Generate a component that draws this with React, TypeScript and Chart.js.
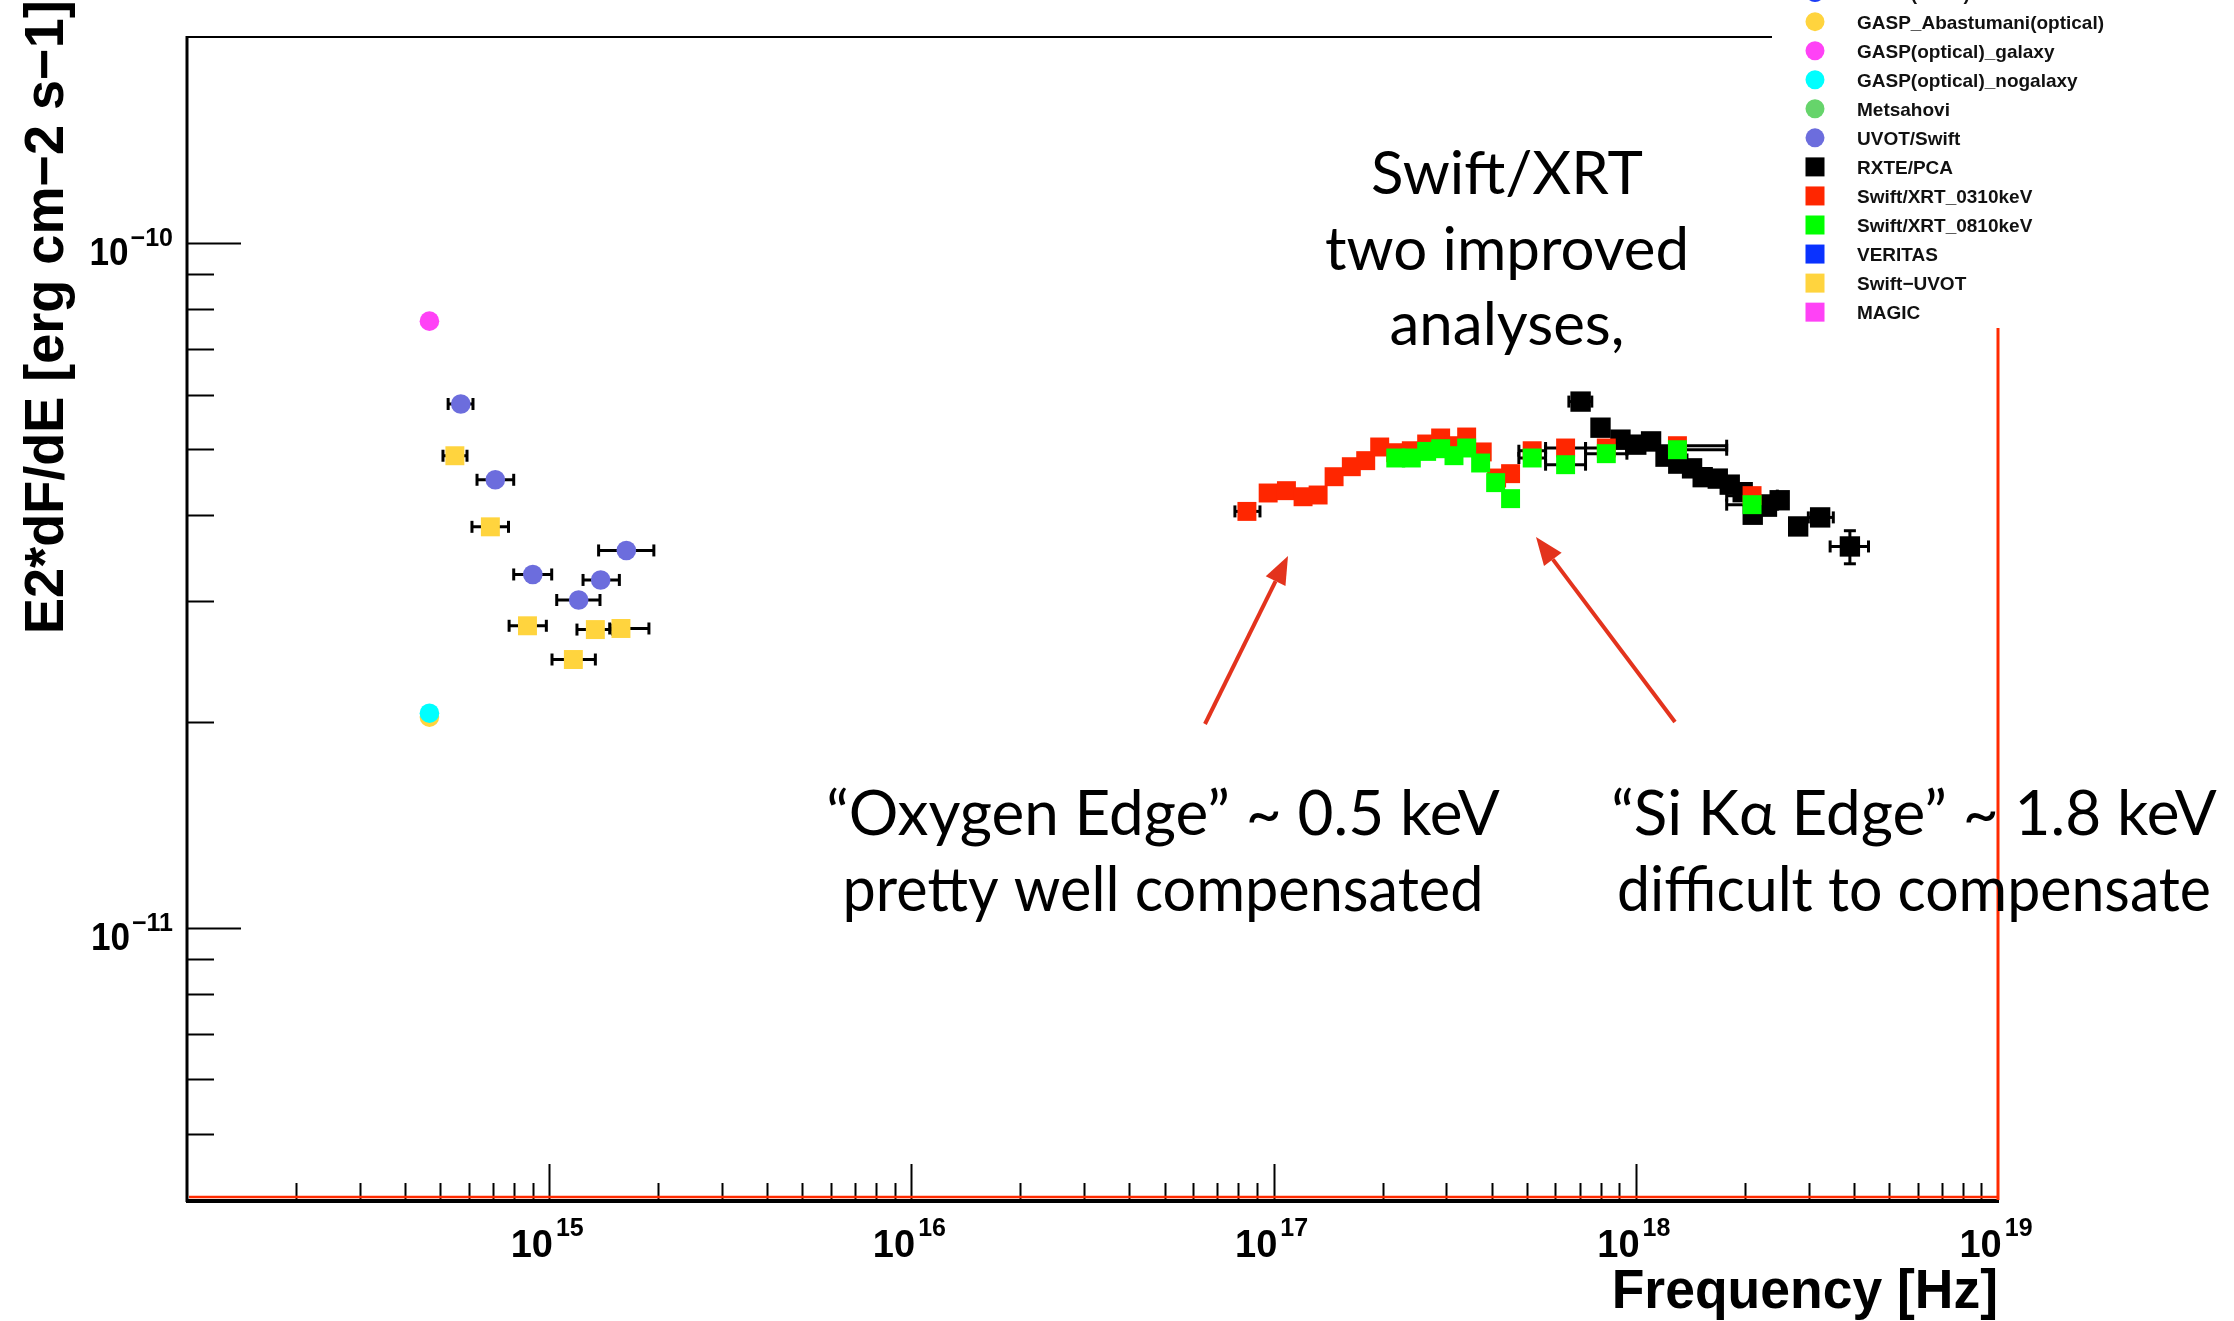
import React, { useEffect, useRef } from 'react';
import { Chart, registerables } from 'chart.js';

Chart.register(...registerables);

const W = 2234;
const H = 1321;

// ---------- data (frequency [Hz], E2 dF/dE [erg cm^-2 s^-1]) ----------
const gaspGalaxyX = [4.67e14];
const gaspGalaxyY = [7.69e-11];
const gaspNogalaxyX = [4.67e14];
const gaspNogalaxyY = [2.057e-11];
const gaspAbastumaniX = [4.67e14];
const gaspAbastumaniY = [2.03e-11];

const uvotSwiftX = [5.7e14, 7.1e14, 9.01e14, 1.206e15, 1.387e15, 1.633e15];
const uvotSwiftY = [5.82e-11, 4.51e-11, 3.28e-11, 3.01e-11, 3.22e-11, 3.556e-11];
const uvotSwiftXLo = [5.26e14, 6.32e14, 7.98e14, 1.049e15, 1.24e15, 1.369e15];
const uvotSwiftXHi = [6.16e14, 7.98e14, 1.016e15, 1.381e15, 1.562e15, 1.945e15];

const swiftUvotX = [5.49e14, 6.88e14, 8.71e14, 1.166e15, 1.341e15, 1.578e15];
const swiftUvotY = [4.89e-11, 3.85e-11, 2.76e-11, 2.464e-11, 2.725e-11, 2.735e-11];
const swiftUvotXLo = [5.09e14, 6.12e14, 7.75e14, 1.018e15, 1.193e15, 1.469e15];
const swiftUvotXHi = [5.93e14, 7.72e14, 9.82e14, 1.341e15, 1.497e15, 1.885e15];

const xrt0310X = [8.44e16, 9.66e16, 1.085e17, 1.206e17, 1.327e17, 1.469e17, 1.639e17, 1.796e17, 1.963e17, 2.174e17, 2.4e17, 2.646e17, 2.892e17, 3.148e17, 3.412e17, 3.767e17, 4.128e17, 4.511e17, 5.175e17, 6.4e17, 8.29e17, 1.303e18, 2.094e18];
const xrt0310Y = [4.055e-11, 4.314e-11, 4.348e-11, 4.26e-11, 4.285e-11, 4.557e-11, 4.713e-11, 4.81e-11, 5.036e-11, 4.94e-11, 4.973e-11, 5.087e-11, 5.191e-11, 5.058e-11, 5.208e-11, 4.953e-11, 4.537e-11, 4.604e-11, 4.973e-11, 5.019e-11, 5.019e-11, 5.058e-11, 4.276e-11];
const xrt0310XLo = [7.82e16, null, null, null, null, null, null, null, null, null, null, null, null, null, null, null, null, null, 4.755e17, 5.635e17, 7.265e17, 9.45e17, 1.782e18];
const xrt0310XHi = [9.17e16, null, null, null, null, null, null, null, null, null, null, null, null, null, null, null, null, null, 5.635e17, 7.265e17, 9.45e17, 1.782e18, 2.459e18];

const xrt0810X = [2.174e17, 2.4e17, 2.646e17, 2.892e17, 3.148e17, 3.412e17, 3.729e17, 4.102e17, 4.511e17, 5.175e17, 6.4e17, 8.29e17, 1.303e18, 2.094e18];
const xrt0810Y = [4.853e-11, 4.853e-11, 4.962e-11, 5.007e-11, 4.891e-11, 5.019e-11, 4.772e-11, 4.467e-11, 4.233e-11, 4.853e-11, 4.745e-11, 4.924e-11, 4.99e-11, 4.148e-11];
const xrt0810XLo = [null, null, null, null, null, null, null, null, null, 4.755e17, 5.635e17, 7.265e17, 9.45e17, 1.782e18];
const xrt0810XHi = [null, null, null, null, null, null, null, null, null, 5.635e17, 7.265e17, 9.45e17, 1.782e18, 2.459e18];

const rxteX = [7.04e17, 7.99e17, 9.07e17, 1.003e18, 1.102e18, 1.208e18, 1.31e18, 1.43e18, 1.53e18, 1.684e18, 1.817e18, 1.973e18, 2.103e18, 2.302e18, 2.496e18, 2.807e18, 3.228e18, 3.9e18];
const rxteY = [5.867e-11, 5.374e-11, 5.162e-11, 5.076e-11, 5.132e-11, 4.875e-11, 4.762e-11, 4.687e-11, 4.55e-11, 4.528e-11, 4.437e-11, 4.326e-11, 4.01e-11, 4.12e-11, 4.21e-11, 3.855e-11, 3.974e-11, 3.604e-11];
const rxteXLo = [6.535e17, null, null, null, null, null, null, null, null, null, null, null, null, null, null, null, 2.995e18, 3.44e18];
const rxteXHi = [7.56e17, null, null, null, null, null, null, null, null, null, null, null, null, null, null, null, 3.51e18, 4.39e18];
const rxteYLo = [null, null, null, null, null, null, null, null, null, null, null, null, null, null, null, null, null, 3.4e-11];
const rxteYHi = [null, null, null, null, null, null, null, null, null, null, null, null, null, null, null, null, null, 3.8e-11];

// ---------- axes ----------
const xMin = 1e14;
const xMax = 1e19;
const yMin = 4e-12;
const yMax = 2e-10;
const xMajorTicks = [1e15, 1e16, 1e17, 1e18, 1e19];
const xTickExponents = ['15', '16', '17', '18', '19'];
const xDecades = [1e14, 1e15, 1e16, 1e17, 1e18];
const yMajorTicks = [1e-11, 1e-10];
const yTickExponents = ['\u221211', '\u221210'];
const yMinorTicks = [5e-12, 6e-12, 7e-12, 8e-12, 9e-12, 2e-11, 3e-11, 4e-11, 5e-11, 6e-11, 7e-11, 8e-11, 9e-11];
const xTitle = 'Frequency [Hz]';
const yTitle = 'E2*dF/dE [erg cm\u22122 s\u22121]';

// ---------- legend ----------
const legendLabels = ['GASP(radio)', 'GASP_Abastumani(optical)', 'GASP(optical)_galaxy', 'GASP(optical)_nogalaxy', 'Metsahovi', 'UVOT/Swift', 'RXTE/PCA', 'Swift/XRT_0310keV', 'Swift/XRT_0810keV', 'VERITAS', 'Swift\u2212UVOT', 'MAGIC'];
const legendColors = ['#1c3cf5', '#ffd43e', '#ff42f6', '#00ffff', '#66d46b', '#6c6ddd', '#000000', '#ff2600', '#00ff00', '#0a32ff', '#ffd43e', '#ff42f6'];
const legendShapes = ['circle', 'circle', 'circle', 'circle', 'circle', 'circle', 'rect', 'rect', 'rect', 'rect', 'rect', 'rect'];

// ---------- annotations ----------
const noteTop = ['Swift/XRT', 'two improved', 'analyses,'];
const noteOxygen = ['\u201cOxygen Edge\u201d ~ 0.5 keV', 'pretty well compensated'];
const noteSi = ['\u201cSi K\u03b1 Edge\u201d ~ 1.8 keV', 'difficult to compensate'];

const pts = (xs: number[], ys: number[]) => xs.map((x, i) => ({ x, y: ys[i] }));

const SANS = '"Liberation Sans", Arial, Helvetica, sans-serif';
const HUMAN = 'Lato, "Open Sans", sans-serif';

function drawText(ctx: CanvasRenderingContext2D, text: string, x: number, y: number, font: string, align: string, hscale = 1, color = '#000') {
  ctx.save();
  ctx.font = font;
  ctx.fillStyle = color;
  ctx.textBaseline = 'alphabetic';
  ctx.textAlign = 'left';
  const w = ctx.measureText(text).width * hscale;
  const x0 = align === 'center' ? x - w / 2 : align === 'right' ? x - w : x;
  ctx.translate(x0, y);
  ctx.scale(hscale, 1);
  ctx.fillText(text, 0, 0);
  ctx.restore();
  return w;
}

function textWidth(ctx: CanvasRenderingContext2D, text: string, font: string) {
  ctx.save();
  ctx.font = font;
  const w = ctx.measureText(text).width;
  ctx.restore();
  return w;
}

function line(ctx: CanvasRenderingContext2D, x1: number, y1: number, x2: number, y2: number, color: string, width: number) {
  ctx.save();
  ctx.strokeStyle = color;
  ctx.lineWidth = width;
  ctx.beginPath();
  ctx.moveTo(x1, y1);
  ctx.lineTo(x2, y2);
  ctx.stroke();
  ctx.restore();
}

function arrow(ctx: CanvasRenderingContext2D, x1: number, y1: number, x2: number, y2: number, color: string) {
  const ang = Math.atan2(y2 - y1, x2 - x1);
  const headLen = 28;
  const headHalf = 11;
  const bx = x2 - headLen * Math.cos(ang);
  const by = y2 - headLen * Math.sin(ang);
  line(ctx, x1, y1, bx, by, color, 4);
  ctx.save();
  ctx.fillStyle = color;
  ctx.beginPath();
  ctx.moveTo(x2, y2);
  ctx.lineTo(bx + headHalf * Math.sin(ang), by - headHalf * Math.cos(ang));
  ctx.lineTo(bx - headHalf * Math.sin(ang), by + headHalf * Math.cos(ang));
  ctx.closePath();
  ctx.fill();
  ctx.restore();
}

const overlayPlugin = {
  id: 'rootOverlay',
  beforeDatasetsDraw(chart: any) {
    const ctx: CanvasRenderingContext2D = chart.ctx;
    const xs = chart.scales.x;
    const ys = chart.scales.y;
    chart.data.datasets.forEach((ds: any) => {
      const e = ds.errors;
      if (!e) return;
      ds.data.forEach((p: any, i: number) => {
        const px = xs.getPixelForValue(p.x);
        const py = ys.getPixelForValue(p.y);
        if (e.xLo && e.xLo[i] != null) {
          const a = xs.getPixelForValue(e.xLo[i]);
          const b = xs.getPixelForValue(e.xHi[i]);
          line(ctx, a, py, b, py, '#000', 3);
          line(ctx, a, py - 6, a, py + 6, '#000', 3);
          line(ctx, b, py - 6, b, py + 6, '#000', 3);
        }
        if (e.yLo && e.yLo[i] != null) {
          const a = ys.getPixelForValue(e.yLo[i]);
          const b = ys.getPixelForValue(e.yHi[i]);
          line(ctx, px, a, px, b, '#000', 3);
          line(ctx, px - 6, a, px + 6, a, '#000', 3);
          line(ctx, px - 6, b, px + 6, b, '#000', 3);
        }
      });
    });
  },
  afterDraw(chart: any) {
    const ctx: CanvasRenderingContext2D = chart.ctx;
    const xs = chart.scales.x;
    const ys = chart.scales.y;
    const { left, right, top, bottom } = chart.chartArea;

    // x ticks (inside, from bottom axis)
    xDecades.forEach((d) => {
      for (let m = 2; m <= 9; m++) {
        const px = Math.round(xs.getPixelForValue(d * m)) + 0.5;
        line(ctx, px, bottom, px, bottom - 17, '#000', 2);
      }
    });
    xMajorTicks.forEach((v) => {
      const px = Math.round(xs.getPixelForValue(v)) + 0.5;
      if (v < xMax) line(ctx, px, bottom, px, bottom - 36, '#000', 2);
    });
    // y ticks
    yMinorTicks.forEach((v) => {
      const py = Math.round(ys.getPixelForValue(v)) + 0.5;
      line(ctx, left, py, left + 27, py, '#000', 2);
    });
    yMajorTicks.forEach((v) => {
      const py = Math.round(ys.getPixelForValue(v)) + 0.5;
      line(ctx, left, py, left + 54, py, '#000', 2);
    });

    // frame
    line(ctx, left, top, 1772, top, '#000', 2);
    line(ctx, left, top - 1, left, bottom + 2, '#000', 3);
    line(ctx, left - 1, bottom + 1, right + 1, bottom + 1, '#000', 4);
    line(ctx, left + 2, bottom - 3, right, bottom - 3, '#ff2a00', 2.5);
    line(ctx, right, 328, right, bottom, '#ff2a00', 3);

    // x tick labels
    const mainFontX = `bold 38px ${SANS}`;
    const supFontX = `bold 25px ${SANS}`;
    xMajorTicks.forEach((v, i) => {
      const px = xs.getPixelForValue(v);
      const w1 = textWidth(ctx, '10', mainFontX);
      const w2 = textWidth(ctx, xTickExponents[i], supFontX);
      const total = w1 + 3 + w2;
      const x0 = px - total / 2 - 2;
      drawText(ctx, '10', x0, bottom + 57, mainFontX, 'left');
      drawText(ctx, xTickExponents[i], x0 + w1 + 3, bottom + 36, supFontX, 'left');
    });
    // y tick labels
    const mainFontY = `bold 39px ${SANS}`;
    const supFontY = `bold 25px ${SANS}`;
    yMajorTicks.forEach((v, i) => {
      const py = ys.getPixelForValue(v);
      const w2 = drawText(ctx, yTickExponents[i], left - 14, py + 3, supFontY, 'right', 1.0);
      drawText(ctx, '10', left - 14 - w2 - 2, py + 22, mainFontY, 'right', 0.9);
    });

    // axis titles
    drawText(ctx, xTitle, right, 1308, `bold 56px ${SANS}`, 'right', 0.955);
    ctx.save();
    ctx.translate(63, 634);
    ctx.rotate(-Math.PI / 2);
    drawText(ctx, yTitle, 0, 0, `bold 56px ${SANS}`, 'left', 0.965);
    ctx.restore();

    // legend (ROOT TLegend style, no border)
    const legTop = -7.4;
    const legStep = 29.05;
    legendLabels.forEach((lab, i) => {
      const cy = legTop + i * legStep;
      ctx.save();
      ctx.fillStyle = legendColors[i];
      if (legendShapes[i] === 'circle') {
        ctx.beginPath();
        ctx.arc(1815, cy, 9.5, 0, Math.PI * 2);
        ctx.fill();
      } else {
        ctx.fillRect(1815 - 9.5, cy - 9.5, 19, 19);
      }
      ctx.restore();
      drawText(ctx, lab, 1857, cy + 7, `bold 19px ${SANS}`, 'left', 1.0, '#111');
    });

    // annotations
    const noteFont = `60px ${HUMAN}`;
    const edgeFont = `62px ${HUMAN}`;
    noteTop.forEach((t, i) => drawText(ctx, t, 1507, 194 + i * 75.5, noteFont, 'center'));
    noteOxygen.forEach((t, i) => drawText(ctx, t, 1163, 835 + i * 76, edgeFont, 'center', i === 0 ? 1 : 0.958));
    noteSi.forEach((t, i) => drawText(ctx, t, 1914, 835 + i * 76, edgeFont, 'center', i === 0 ? 1 : 0.952));

    arrow(ctx, 1205, 724, 1288, 556, '#e3331d');
    arrow(ctx, 1675, 722, 1536, 537, '#e3331d');
  },
};

export default function App() {
  const ref = useRef<HTMLCanvasElement | null>(null);
  useEffect(() => {
    document.body.style.margin = '0';
    document.body.style.background = '#ffffff';
    const canvas = ref.current;
    if (!canvas) return;
    const circle = (label: string, xs: number[], ys: number[], color: string, errors?: any) => ({
      label,
      data: pts(xs, ys),
      pointStyle: 'circle',
      pointRadius: 9.8,
      pointBackgroundColor: color,
      pointBorderWidth: 0,
      borderWidth: 0,
      showLine: false,
      errors,
    });
    const square = (label: string, xs: number[], ys: number[], color: string, r: number, errors?: any) => ({
      label,
      data: pts(xs, ys),
      pointStyle: 'rect',
      pointRadius: r,
      pointBackgroundColor: color,
      pointBorderWidth: 0,
      borderWidth: 0,
      showLine: false,
      errors,
    });
    const chart = new Chart(canvas, {
      type: 'scatter',
      data: {
        datasets: [
          square('Swift/XRT_0810keV', xrt0810X, xrt0810Y, '#00ff00', 13.4, { xLo: xrt0810XLo, xHi: xrt0810XHi }),
          square('Swift/XRT_0310keV', xrt0310X, xrt0310Y, '#ff2600', 13.4, { xLo: xrt0310XLo, xHi: xrt0310XHi }),
          square('RXTE/PCA', rxteX, rxteY, '#000000', 14.4, { xLo: rxteXLo, xHi: rxteXHi, yLo: rxteYLo, yHi: rxteYHi }),
          circle('GASP(optical)_nogalaxy', gaspNogalaxyX, gaspNogalaxyY, '#00ffff'),
          circle('GASP_Abastumani(optical)', gaspAbastumaniX, gaspAbastumaniY, '#ffd43e'),
          circle('GASP(optical)_galaxy', gaspGalaxyX, gaspGalaxyY, '#ff42f6'),
          circle('UVOT/Swift', uvotSwiftX, uvotSwiftY, '#6c6ddd', { xLo: uvotSwiftXLo, xHi: uvotSwiftXHi }),
          square('Swift\u2212UVOT', swiftUvotX, swiftUvotY, '#ffd43e', 13.4, { xLo: swiftUvotXLo, xHi: swiftUvotXHi }),
        ] as any,
      },
      options: {
        animation: false,
        responsive: false,
        devicePixelRatio: 1,
        events: [],
        layout: { padding: { left: 187, right: W - 1998, top: 37, bottom: H - 1200 } },
        plugins: { legend: { display: false }, tooltip: { enabled: false }, title: { display: false } },
        scales: {
          x: {
            type: 'logarithmic',
            min: xMin,
            max: xMax,
            ticks: { display: false },
            grid: { display: false, drawTicks: false },
            border: { display: false },
            afterFit: (s: any) => { s.height = 0; },
          },
          y: {
            type: 'logarithmic',
            min: yMin,
            max: yMax,
            ticks: { display: false },
            grid: { display: false, drawTicks: false },
            border: { display: false },
            afterFit: (s: any) => { s.width = 0; },
          },
        },
      } as any,
      plugins: [overlayPlugin],
    });
    return () => chart.destroy();
  }, []);
  return (
    <div style={{ width: W, height: H, background: '#fff' }}>
      <canvas ref={ref} width={W} height={H} style={{ display: 'block', width: W, height: H }} />
    </div>
  );
}
